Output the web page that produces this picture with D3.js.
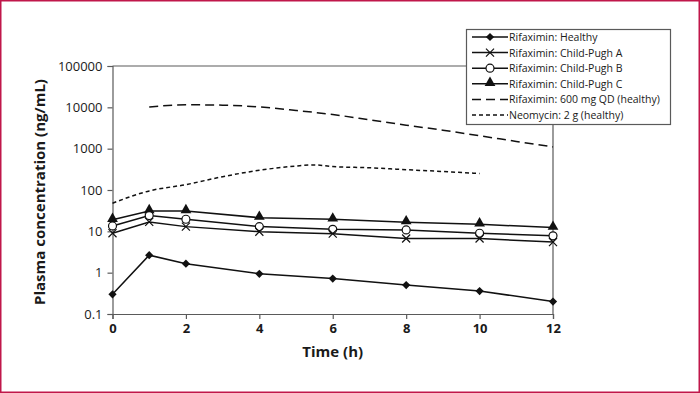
<!DOCTYPE html>
<html>
<head>
<meta charset="utf-8">
<script src="https://cdn.jsdelivr.net/npm/d3@7"></script>
<style>
  body { margin: 0; background: #fff; }
  svg text { font-family: "Open Sans", "Noto Sans", sans-serif; fill: #1a1a1a; }
</style>
</head>
<body>
<div id="chart"></div>
<script>
// sampling times (h)
var times = [0, 1, 2, 4, 6, 8, 10, 12];
var healthy = [0.3, 2.65, 1.65, 0.94, 0.72, 0.5, 0.36, 0.2];
var cpA = [9.0, 16.9, 13, 9.8, 8.8, 6.7, 6.7, 5.5];
var cpB = [13.5, 24, 19.6, 13, 11.2, 10.8, 9, 7.8];
var cpC = [19, 31, 31, 21.4, 19.5, 16.6, 14.8, 12.3];

// reference curves (healthy subjects)
var qdTimes = [1, 2, 3, 4, 5, 6, 7, 8, 9, 10, 11, 12];
var qd600 = [10200, 11500, 11300, 10200, 8400, 6700, 5000, 3700, 2800, 2050, 1500, 1100];
var neoTimes = [0, 1, 2, 3, 4, 5, 5.5, 6, 7, 8, 9, 10];
var neomycin = [48, 95, 135, 210, 300, 380, 405, 370, 345, 310, 280, 250];

var xTicks = [0, 2, 4, 6, 8, 10, 12];
var yTicks = [0.1, 1, 10, 100, 1000, 10000, 100000];
var yTickLabels = ["0.1", "1", "10", "100", "1000", "10000", "100000"];

var legendNames = ["Rifaximin: Healthy", "Rifaximin: Child-Pugh A", "Rifaximin: Child-Pugh B",
  "Rifaximin: Child-Pugh C", "Rifaximin: 600 mg QD (healthy)", "Neomycin: 2 g (healthy)"];

var width = 700, height = 393;
var axisColor = "#5a5a5a";

var svg = d3.select("#chart").append("svg")
    .attr("width", width)
    .attr("height", height);

// red frame around the figure
svg.append("rect")
    .attr("x", 0.75).attr("y", 0.75)
    .attr("width", width - 1.5).attr("height", height - 1.5)
    .style("fill", "none")
    .style("stroke", "#c0174a")
    .style("stroke-width", 1.5);

var x = d3.scaleLinear().domain([0, 12]).range([112.5, 553]);
var y = d3.scaleLog().domain([0.1, 100000]).range([314, 66]);

// plot frame (top + right)
svg.append("path")
    .attr("d", "M" + x(0) + "," + y(100000) + "H" + x(12) + "V" + y(0.1))
    .style("fill", "none")
    .style("stroke", axisColor)
    .style("stroke-width", 1.2);

// y axis
var yAxis = svg.append("g")
    .attr("transform", "translate(" + x(0) + ",0)")
    .call(d3.axisLeft(y).tickValues(yTicks).tickSize(5).tickPadding(5)
      .tickFormat(function(d, i) { return yTickLabels[i]; }));
yAxis.selectAll("path, line").style("stroke", axisColor).style("stroke-width", 1.2);
yAxis.selectAll("text").style("font-size", "13px").style("font-family", "Open Sans").style("fill", "#1a1a1a");

// x axis
var xAxis = svg.append("g")
    .attr("transform", "translate(0," + y(0.1) + ")")
    .call(d3.axisBottom(x).tickValues(xTicks).tickSize(5).tickPadding(5));
xAxis.selectAll("path, line").style("stroke", axisColor).style("stroke-width", 1.2);
xAxis.selectAll("text").style("font-size", "13px").style("font-weight", "bold")
    .style("font-family", "Open Sans").style("fill", "#1a1a1a");

// axis titles
svg.append("text")
    .attr("x", x(6))
    .attr("y", 357)
    .attr("text-anchor", "middle")
    .style("font-size", "15px")
    .style("font-weight", "bold")
    .text("Time (h)");

svg.append("text")
    .attr("transform", "translate(45," + ((y(0.1) + y(100000)) / 2 + 2) + ") rotate(-90)")
    .attr("text-anchor", "middle")
    .style("font-size", "15px")
    .style("font-weight", "bold")
    .text("Plasma concentration (ng/mL)");

// dashed reference curves
var smooth = d3.line()
    .x(function(d) { return x(d[0]); })
    .y(function(d) { return y(d[1]); })
    .curve(d3.curveMonotoneX);

svg.append("path")
    .datum(d3.zip(qdTimes, qd600))
    .attr("d", smooth)
    .style("fill", "none")
    .style("stroke", "#111")
    .style("stroke-width", 1.5)
    .style("stroke-dasharray", "9,5");

svg.append("path")
    .datum(d3.zip(neoTimes, neomycin))
    .attr("d", smooth)
    .style("fill", "none")
    .style("stroke", "#111")
    .style("stroke-width", 1.5)
    .style("stroke-dasharray", "4,3");

// marker shapes
var sym = {
  diamond: d3.symbol().type(d3.symbolSquare).size(34),
  triangle: d3.symbol().type(d3.symbolTriangle).size(50),
  circle: d3.symbol().type(d3.symbolCircle).size(50),
  cross: d3.symbol().type(d3.symbolX).size(44)
};

var series = [
  {values: cpC, marker: "triangle"},
  {values: cpB, marker: "circle"},
  {values: cpA, marker: "cross"},
  {values: healthy, marker: "diamond"}
];

var straight = d3.line()
    .x(function(d) { return x(d[0]); })
    .y(function(d) { return y(d[1]); });

function drawMarker(g, type) {
  var p = g.append("path").attr("d", sym[type]());
  if (type == "circle") {
    p.style("fill", "#fff").style("stroke", "#111").style("stroke-width", 1.2);
  } else if (type == "cross") {
    p.style("fill", "none").style("stroke", "#111").style("stroke-width", 1.2);
  } else if (type == "diamond") {
    p.attr("transform", "rotate(45)").style("fill", "#111");
  } else {
    p.style("fill", "#111");
  }
  return p;
}

series.forEach(function(s) {
  var pts = d3.zip(times, s.values);
  svg.append("path")
      .datum(pts)
      .attr("d", straight)
      .style("fill", "none")
      .style("stroke", "#111")
      .style("stroke-width", 1.5);
  pts.forEach(function(p) {
    var g = svg.append("g")
        .attr("transform", "translate(" + x(p[0]) + "," + (y(p[1]) + (s.marker == "triangle" ? -1 : 0)) + ")");
    drawMarker(g, s.marker);
  });
});

// legend
var legend = svg.append("g").attr("transform", "translate(466,29)");
legend.append("rect")
    .attr("x", 0.5).attr("y", 0.5)
    .attr("width", 204).attr("height", 95)
    .style("fill", "#fff")
    .style("stroke", axisColor)
    .style("stroke-width", 1.2);

var legendMarkers = ["diamond", "cross", "circle", "triangle", null, null];
var legendDash = [null, null, null, null, "9,5", "4,3"];

legendNames.forEach(function(name, i) {
  var row = legend.append("g").attr("transform", "translate(0," + (8 + i * 15.6) + ")");
  row.append("line")
      .attr("x1", 6).attr("x2", 42)
      .attr("y1", 0).attr("y2", 0)
      .style("stroke", "#111")
      .style("stroke-width", 1.5)
      .style("stroke-dasharray", legendDash[i]);
  if (legendMarkers[i]) {
    var g = row.append("g").attr("transform", "translate(24," + (legendMarkers[i] == "triangle" ? -1 : 0) + ")");
    drawMarker(g, legendMarkers[i]);
  }
  row.append("text")
      .attr("x", 43)
      .attr("y", 4)
      .style("font-size", "10.5px")
      .text(name);
});
</script>
</body>
</html>
